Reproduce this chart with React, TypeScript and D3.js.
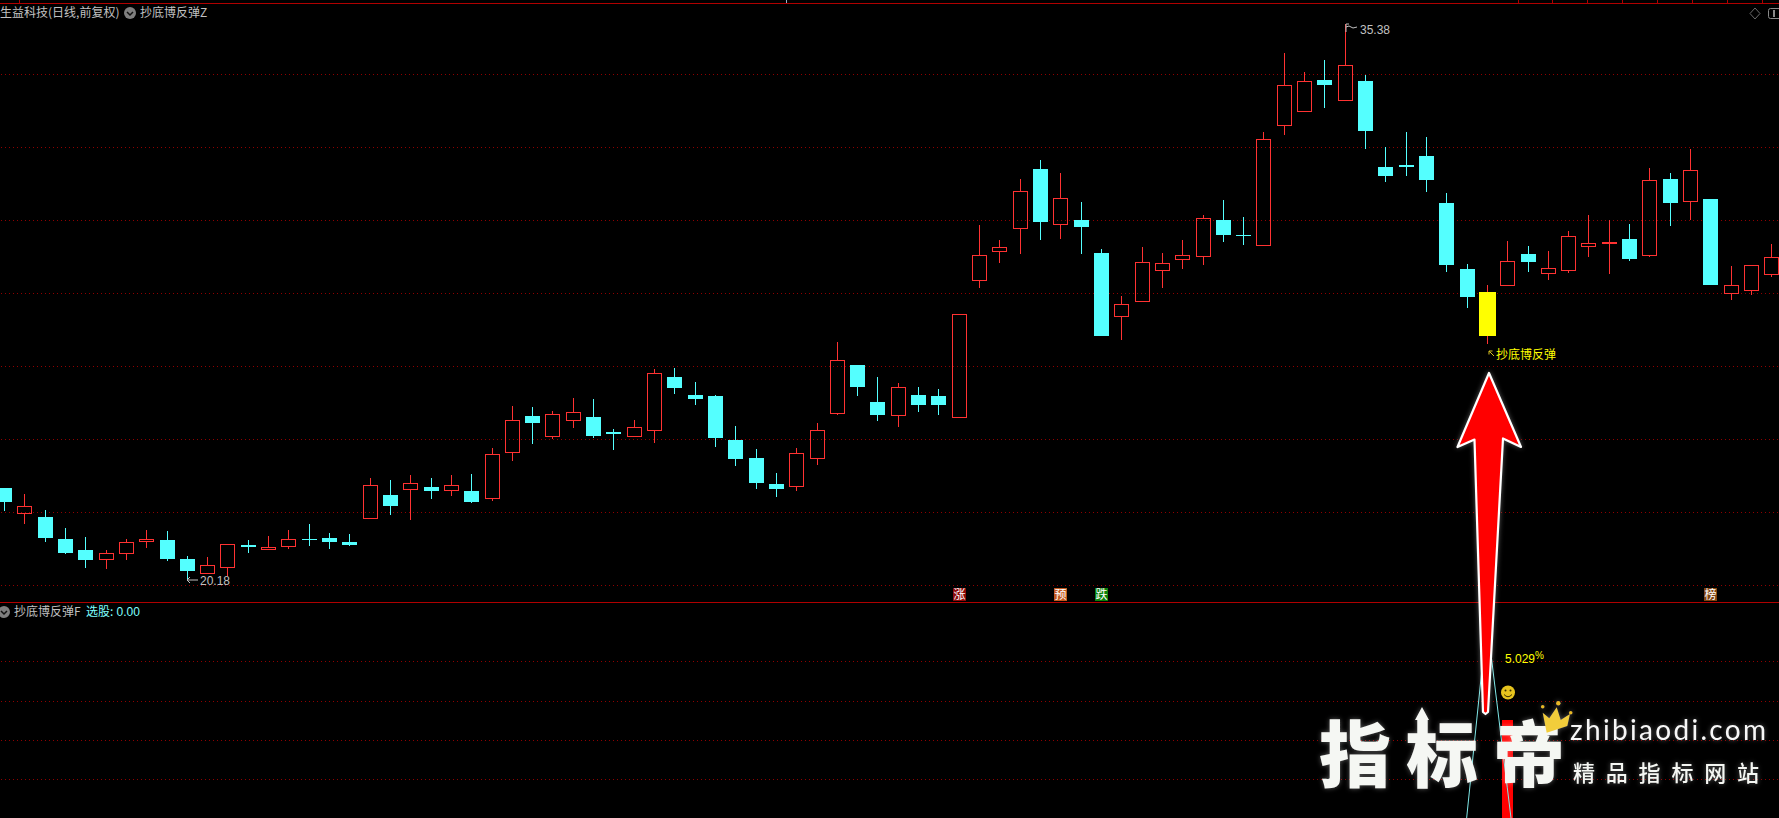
import React from "react";
import * as d3 from "d3";

const WIDTH = 1779;
const HEIGHT = 818;

const highs = [
  22.67,22.50,22.06,21.57,21.32,20.97,21.27,21.52,21.49,20.80,
  20.78,21.12,21.24,21.35,21.52,21.68,21.43,21.41,22.94,22.89,
  23.02,22.94,23.02,23.05,23.76,24.91,24.88,24.77,25.13,25.10,
  24.28,24.53,25.93,25.95,25.57,25.21,24.36,23.73,23.08,23.76,
  24.45,26.67,26.04,25.71,25.54,25.43,25.38,27.42,29.87,29.46,
  31.13,31.65,31.30,30.50,29.21,27.93,29.27,29.10,29.46,30.15,
  30.56,30.09,32.42,34.58,34.06,34.39,35.38,33.98,32.01,32.42,
  32.28,30.75,28.80,28.23,29.43,29.30,29.16,29.71,30.15,30.01,
  29.90,31.43,31.30,31.95,30.58,28.75,28.77,29.35,
];
const lows = [
  22.04,21.68,21.19,20.86,20.47,20.45,20.69,21.02,20.67,20.18,
  20.31,20.26,20.89,20.97,20.99,21.08,20.99,21.08,21.83,21.93,
  21.79,22.36,22.45,22.26,22.31,23.41,23.87,24.01,24.31,24.03,
  23.71,24.07,23.90,25.24,24.94,23.79,23.27,22.64,22.42,22.58,
  23.30,24.67,25.19,24.50,24.34,24.75,24.67,24.59,28.15,28.83,
  29.08,29.46,29.49,29.08,26.83,26.72,27.77,28.15,28.67,28.78,
  29.41,29.32,29.30,32.34,32.98,33.08,33.28,31.95,31.05,31.21,
  30.78,28.58,27.60,26.61,28.21,28.58,28.36,28.56,29.00,28.53,
  28.89,29.00,29.84,30.01,28.23,27.82,27.95,28.45,
];
const opens = [
  22.67,21.96,21.87,21.27,20.97,20.70,20.87,21.20,21.24,20.72,
  20.32,20.48,21.11,20.98,21.05,21.27,21.30,21.19,21.83,22.47,
  22.62,22.69,22.57,22.58,22.37,23.63,24.64,24.07,24.51,24.61,
  24.20,24.07,24.24,25.71,25.21,25.19,23.98,23.49,22.78,22.68,
  23.47,24.70,26.04,25.02,24.65,25.21,25.19,24.59,28.35,29.14,
  29.77,31.41,29.88,30.01,29.10,27.36,27.77,28.62,28.92,29.00,
  30.01,29.60,29.30,32.57,32.98,33.84,33.28,33.82,31.46,31.52,
  31.76,30.47,28.67,28.04,28.21,29.08,28.54,28.62,29.28,29.35,
  29.49,29.03,31.13,30.51,30.58,27.99,28.05,28.49,
];
const closes = [
  22.28,22.16,21.30,20.89,20.69,20.88,21.20,21.26,20.72,20.39,
  20.55,21.12,21.05,21.04,21.26,21.25,21.19,21.11,22.74,22.17,
  22.79,22.58,22.74,22.28,23.59,24.52,24.45,24.68,24.74,24.09,
  24.15,24.35,25.81,25.41,25.10,24.04,23.46,22.80,22.64,23.62,
  24.25,26.16,25.43,24.67,25.42,24.94,24.94,27.42,29.04,29.26,
  30.79,29.95,30.60,29.82,26.83,27.70,28.85,28.82,29.04,30.05,
  29.60,29.57,32.22,33.70,33.81,33.71,34.25,32.45,31.21,31.46,
  31.10,28.78,27.90,26.83,28.88,28.86,28.68,29.56,29.37,29.40,
  28.94,31.10,30.47,31.37,28.23,28.22,28.77,28.99,
];

const priceGrid = [20, 22, 24, 26, 28, 30, 32, 34];
const pctGrid = [1, 2, 3, 4];
const signalIndex = 73;
const maxLabel = { index: 66, value: 35.38 };
const minLabel = { index: 9, value: 20.18 };
const badges = [
  { index: 47, text: "涨", color: "#8c0a0a" },
  { index: 52, text: "预", color: "#c2581e" },
  { index: 54, text: "跌", color: "#0a820a" },
  { index: 84, text: "榜", color: "#7f4310" },
];
const lineIndices = [71, 72, 73, 74, 75];
const lineValues = [-4.9, 0.0, 5.03, 0.8, -3.4];
const barIndex = 74;
const barValue = 2.51;
const pctLabel = "5.029";
const topTicks = [19, 1518, 1552, 1587, 1622, 1657, 1692, 1727, 1762];

const RED = "#ff3232";
const CYAN = "#54ffff";
const GRID = "#900000";
const RULE = "#b00000";
const GREY = "#c0c0c0";
const YELLOW = "#ffff00";
const CJK = "'Noto Sans CJK SC', sans-serif";
const LATIN = "'Liberation Sans', sans-serif";

const x = d3.scaleLinear().domain([0, 87]).range([4, 1771.3]);
const y = d3.scaleLinear().domain([20, 34]).range([585.3, 74.3]);
const pctY = d3.scaleLinear().domain([1, 4]).range([779.3, 661.3]);

const pctLine = d3
  .line<number>()
  .x((_, i) => x(lineIndices[i]))
  .y((d) => pctY(d));

function Candle({ i }: { i: number }) {
  const cx = Math.round(x(i));
  const top = Math.round(y(Math.max(opens[i], closes[i])));
  const bot = Math.round(y(Math.min(opens[i], closes[i])));
  const hi = Math.round(y(highs[i]));
  const lo = Math.round(y(lows[i]));
  const rise = closes[i] >= opens[i];
  const signal = i === signalIndex;
  const wick = rise || signal ? RED : CYAN;
  return (
    <g shapeRendering="crispEdges">
      <line x1={cx + 0.5} x2={cx + 0.5} y1={hi} y2={top} stroke={wick} />
      <line x1={cx + 0.5} x2={cx + 0.5} y1={bot} y2={lo} stroke={wick} />
      {signal ? (
        <rect x={cx - 8} y={top} width={17} height={bot - top} fill={YELLOW} />
      ) : rise ? (
        <rect x={cx - 6.5} y={top + 0.5} width={14} height={Math.max(1, bot - top - 1)} fill="none" stroke={RED} />
      ) : (
        <rect x={cx - 7} y={top} width={15} height={Math.max(1, bot - top)} fill={CYAN} />
      )}
    </g>
  );
}

function Chevron({ cx, cy }: { cx: number; cy: number }) {
  return (
    <g>
      <circle cx={cx} cy={cy} r={6} fill="#7f7f7f" />
      <path d={`M${cx - 3} ${cy - 1}L${cx} ${cy + 2}L${cx + 3} ${cy - 1}`} fill="none" stroke="#111" strokeWidth={1.5} />
    </g>
  );
}

export default function App() {
  const maxX = Math.round(x(maxLabel.index));
  const maxY = Math.round(y(maxLabel.value));
  const minX = Math.round(x(minLabel.index));
  const minY = Math.round(y(minLabel.value));
  const sigX = Math.round(x(signalIndex));
  const barX = Math.round(x(barIndex));
  return (
    <svg
      width={WIDTH}
      height={HEIGHT}
      viewBox={`0 0 ${WIDTH} ${HEIGHT}`}
      style={{ position: "fixed", left: 0, top: 0, background: "#000", display: "block" }}
    >
      <defs>
        <filter id="glow" x="-20%" y="-20%" width="140%" height="140%">
          <feGaussianBlur in="SourceAlpha" stdDeviation="2.5" result="b" />
          <feFlood floodColor="#ffffff" floodOpacity="0.35" />
          <feComposite in2="b" operator="in" result="s" />
          <feMerge>
            <feMergeNode in="s" />
            <feMergeNode in="SourceGraphic" />
          </feMerge>
        </filter>
      </defs>

      {/* frame rules */}
      <g shapeRendering="crispEdges">
        <rect x={0} y={3} width={WIDTH} height={1} fill={RULE} />
        <rect x={0} y={602} width={WIDTH} height={1} fill={RULE} />
        {topTicks.map((t) => (
          <line key={t} x1={t + 0.5} x2={t + 0.5} y1={0} y2={3} stroke={RULE} />
        ))}
        <line x1={786.5} x2={786.5} y1={0} y2={3} stroke="#9fb4d0" />
        {priceGrid.map((p) => (
          <line key={p} x1={1} x2={WIDTH} y1={Math.round(y(p)) + 0.5} y2={Math.round(y(p)) + 0.5} stroke={GRID} strokeDasharray="1 3" />
        ))}
        {pctGrid.map((p) => (
          <line key={p} x1={1} x2={WIDTH} y1={Math.round(pctY(p)) + 0.5} y2={Math.round(pctY(p)) + 0.5} stroke={GRID} strokeDasharray="1 3" />
        ))}
      </g>

      {/* top right icons */}
      <path d="M1755 8L1760 13.5L1755 19L1750 13.5Z" fill="none" stroke="#6a6a6a" />
      <rect x={1768.5} y={8.5} width={14} height={10} rx={2} fill="none" stroke="#8a8a8a" />
      <rect x={1773} y={10} width={2} height={7} fill="#8a8a8a" />

      {/* header texts */}
      <text x={0} y={17} fontFamily={CJK} fontSize={12} fill={GREY}>生益科技(日线,前复权)</text>
      <Chevron cx={130} cy={13} />
      <text x={140} y={17} fontFamily={CJK} fontSize={12} fill={GREY}>抄底博反弹Z</text>

      {/* candles */}
      {closes.map((_, i) => (
        <Candle key={i} i={i} />
      ))}

      {/* extremes */}
      <path d={`M${maxX + 1} ${maxY + 8}V${maxY}H${maxX + 4}M${maxX + 1} ${maxY + 3}L${maxX + 4} ${maxY + 2}L${maxX + 8} ${maxY + 4}L${maxX + 12} ${maxY + 3}`} fill="none" stroke={GREY} />
      <text x={maxX + 15} y={34} fontFamily={LATIN} fontSize={12} fill={GREY}>{maxLabel.value.toFixed(2)}</text>
      <path d={`M${minX} ${minY + 1}H${minX + 11}M${minX} ${minY + 1}L${minX + 3} ${minY - 2}M${minX} ${minY + 1}L${minX + 3} ${minY + 4}`} fill="none" stroke={GREY} />
      <text x={minX + 13} y={minY + 6} fontFamily={LATIN} fontSize={12} fill={GREY}>{minLabel.value.toFixed(2)}</text>

      {/* signal label */}
      <path d={`M${sigX + 2} 351L${sigX + 7} 356M${sigX + 2} 351V354.5M${sigX + 2} 351H${sigX + 5.5}`} fill="none" stroke="#d8c020" />
      <text x={sigX + 9} y={359} fontFamily={CJK} fontSize={12} fill={YELLOW}>抄底博反弹</text>

      {/* badges */}
      {badges.map((b) => {
        const bx = Math.round(x(b.index));
        return (
          <g key={b.text}>
            <rect x={bx - 6} y={588} width={13} height={13} fill={b.color} shapeRendering="crispEdges" />
            <text x={bx + 0.5} y={599} textAnchor="middle" fontFamily={CJK} fontSize={12} fill="#fff">{b.text}</text>
          </g>
        );
      })}

      {/* lower pane */}
      <Chevron cx={4} cy={612} />
      <text x={14} y={616} fontFamily={CJK} fontSize={12} fill={GREY}>抄底博反弹F</text>
      <text x={86} y={616} fontFamily={CJK} fontSize={12} fill="#7fffff">选股:</text>
      <text x={116.5} y={616} fontFamily={LATIN} fontSize={12} fill="#7fffff">0.00</text>

      <rect x={barX - 5} y={pctY(barValue)} width={11} height={HEIGHT - pctY(barValue)} fill="#ff0000" shapeRendering="crispEdges" />
      <path d={pctLine(lineValues) ?? ""} fill="none" stroke="#7fe8e8" strokeWidth={1} />

      <text x={1505} y={663} fontFamily={LATIN} fontSize={12} fill={YELLOW}>{pctLabel}</text>
      <text x={1535} y={659} fontFamily={LATIN} fontSize={10} fill={YELLOW}>%</text>

      <g>
        <circle cx={1508} cy={692.5} r={7} fill="#e6c41e" />
        <circle cx={1505.5} cy={690.5} r={1} fill="#3a3000" />
        <circle cx={1510.5} cy={690.5} r={1} fill="#3a3000" />
        <path d="M1504 694.5Q1508 699 1512 694.5" fill="none" stroke="#3a3000" strokeWidth={1} />
      </g>

      {/* annotation arrow */}
      <path
        d="M1489 373L1521 447L1503 438.5L1488 712L1485.5 714L1483 712L1474.5 439.5L1457.5 447Z"
        fill="#ff0000"
        stroke="#ffffff"
        strokeWidth={2.2}
        strokeLinejoin="round"
        filter="url(#glow)"
      />

      {/* watermark */}
      <g filter="url(#glow)">
        <path d="M1422 707L1429 720H1425V728H1419V720H1415Z" fill="#f5f7f3" />
        <text x={1319} y={781} fontFamily={CJK} fontSize={72} fontWeight={900} fill="#f5f7f3" letterSpacing={15}>指标帝</text>
        <polygon
          points="1542.7,712.7 1549.3,718.3 1556.7,707.3 1560.7,720 1570,714 1567.3,726 1546.7,732.7"
          fill="#f2cd3a"
        />
        <circle cx={1542.7} cy={706.7} r={1.8} fill="#e8b820" />
        <circle cx={1558.3} cy={703.3} r={2.2} fill="#e8b820" />
        <circle cx={1570.7} cy={712.7} r={1.8} fill="#e8b820" />
        <text x={1570} y={740} fontFamily="Lato, sans-serif" fontSize={28} fill="#f8f8f8" textLength={196} lengthAdjust="spacing">zhibiaodi.com</text>
        <text x={1573} y={781} fontFamily={CJK} fontSize={22} fontWeight={500} fill="#f5f7f3" textLength={186} lengthAdjust="spacing">精品指标网站</text>
      </g>
    </svg>
  );
}
